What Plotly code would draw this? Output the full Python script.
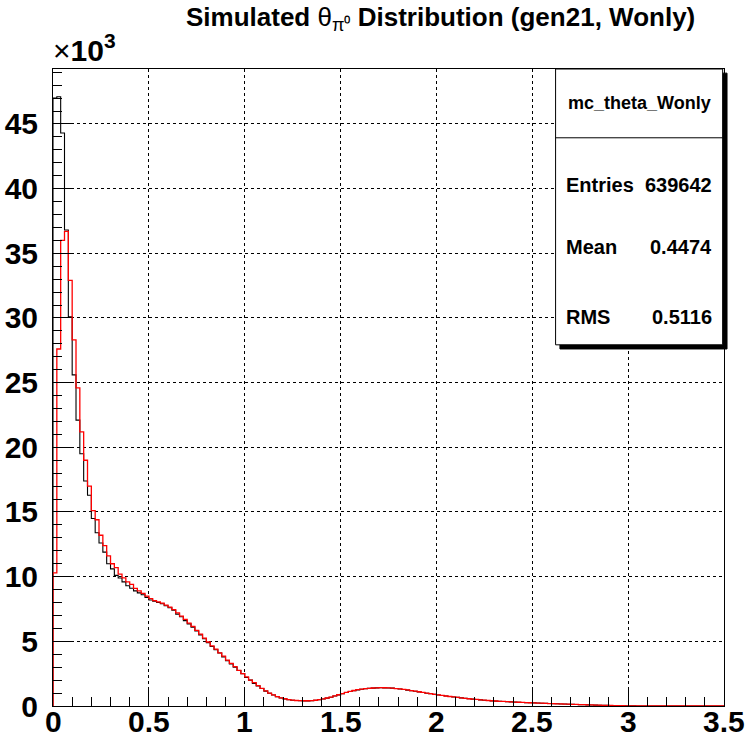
import numpy as np
import plotly.graph_objects as go

# ---- data -------------------------------------------------------------
bin_lo = 0.0
bin_hi = 3.5
n_bins = 175

black_counts = [
    47000, 47100, 44300, 36800, 30100, 25600, 22100, 19500, 17400, 16300,
    14500, 13400, 12600, 11900, 11000, 10600, 10100, 9900, 9600, 9300,
    9100, 8900, 8750, 8600, 8400, 8200, 8100, 8000, 7900, 7750,
    7600, 7400, 7100, 6900, 6600, 6350, 6100, 5800, 5500, 5200,
    4900, 4600, 4350, 4100, 3800, 3500, 3250, 3000, 2750, 2500,
    2200, 2000, 1750, 1550, 1350, 1150, 980, 850, 720, 620,
    550, 490, 450, 420, 410, 400, 400, 410, 440, 480,
    540, 610, 680, 770, 860, 950, 1040, 1120, 1190, 1250,
    1300, 1330, 1360, 1380, 1400, 1410, 1400, 1390, 1380, 1350,
    1310, 1270, 1230, 1190, 1140, 1090, 1040, 990, 950, 900,
    850, 810, 770, 730, 700, 670, 630, 600, 560, 530,
    500, 470, 450, 420, 400, 380, 360, 350, 330, 320,
    300, 290, 270, 260, 250, 240, 230, 210, 200, 190,
    180, 170, 160, 150, 140, 130, 120, 110, 100, 90,
    80, 70, 60, 50, 45, 40, 30, 25, 20, 15,
    10, 8, 5, 3, 2, 1, 0, 0, 0, 0,
    0, 0, 0, 0, 0, 0, 0, 0, 0, 0,
    0, 0, 0, 0, 0,
]

red_counts = [
    10300, 27600, 36000, 36700, 32900, 28300, 24600, 21200, 19000, 17000,
    15100, 14400, 13200, 12400, 11600, 11000, 10700, 10200, 9900, 9600,
    9400, 9100, 8900, 8700, 8500, 8300, 8150, 8050, 7950, 7800,
    7650, 7450, 7200, 6950, 6700, 6400, 6150, 5850, 5550, 5250,
    4950, 4650, 4400, 4100, 3850, 3550, 3300, 3050, 2750, 2500,
    2250, 2000, 1800, 1580, 1370, 1170, 1000, 860, 730, 630,
    560, 500, 455, 425, 410, 405, 405, 415, 445, 490,
    550, 620, 690, 780, 870, 960, 1050, 1130, 1200, 1260,
    1300, 1340, 1370, 1390, 1400, 1420, 1410, 1400, 1380, 1350,
    1320, 1280, 1240, 1190, 1150, 1100, 1050, 1000, 950, 905,
    860, 815, 775, 735, 700, 665, 630, 595, 560, 530,
    505, 475, 450, 425, 405, 385, 365, 350, 335, 320,
    305, 290, 275, 260, 250, 240, 225, 215, 200, 190,
    180, 170, 160, 150, 140, 130, 120, 110, 100, 90,
    80, 70, 60, 52, 45, 38, 32, 25, 20, 15,
    10, 7, 5, 3, 2, 1, 0, 0, 0, 0,
    0, 0, 0, 0, 0, 0, 0, 0, 0, 0,
    0, 0, 0, 0, 0,
]

x_ticks = [0, 0.5, 1, 1.5, 2, 2.5, 3, 3.5]
x_tick_labels = ["0", "0.5", "1", "1.5", "2", "2.5", "3", "3.5"]
y_ticks = [0, 5000, 10000, 15000, 20000, 25000, 30000, 35000, 40000, 45000]
y_tick_labels = ["0", "5", "10", "15", "20", "25", "30", "35", "40", "45"]

title_text = "<b>Simulated</b> θ<sub>π⁰</sub> <b>Distribution (gen21, Wonly)</b>"
stats_name = "mc_theta_Wonly"
stats_rows = [("Entries", "639642"), ("Mean", "0.4474"), ("RMS", "0.5116")]

y_max = 49250

# ---- helpers ------------------------------------------------------------
edges = np.linspace(bin_lo, bin_hi, n_bins + 1)


def step_xy(counts):
    xs = [edges[0]] + list(edges[:-1]) + [edges[-1], edges[-1]]
    ys = [0] + list(counts) + [counts[-1], 0]
    return xs, ys


FONT = "Liberation Sans, Arial, Helvetica, sans-serif"

fig = go.Figure()
bx, by = step_xy(black_counts)
rx, ry = step_xy(red_counts)
fig.add_trace(go.Scatter(x=bx, y=by, mode="lines", line=dict(color="black", width=1.1, shape="hv"),
                         hoverinfo="skip"))
fig.add_trace(go.Scatter(x=rx, y=ry, mode="lines", line=dict(color="#ff0000", width=1.3, shape="hv"),
                         hoverinfo="skip"))

fig.update_layout(
    width=746, height=736,
    margin=dict(l=53, r=22, t=69, b=30, autoexpand=False),
    paper_bgcolor="white", plot_bgcolor="white",
    showlegend=False,
    font=dict(family=FONT, color="black"),
    xaxis=dict(
        range=[bin_lo, bin_hi], tickvals=x_ticks,
        showticklabels=False,
        ticks="inside", ticklen=18, tickwidth=1, tickcolor="black",
        minor=dict(dtick=0.1, ticks="inside", ticklen=9, tickcolor="black", tickwidth=1, showgrid=False),
        showgrid=True, gridcolor="black", griddash="dot", gridwidth=1,
        showline=True, linecolor="black", linewidth=1, mirror=True,
        zeroline=False, fixedrange=True, automargin=False,
    ),
    yaxis=dict(
        range=[0, y_max], tickvals=y_ticks,
        ticktext=[f"<b>{t}</b>" for t in y_tick_labels],
        tickfont=dict(size=30, family=FONT),
        ticks="inside", ticklen=18, tickwidth=1, tickcolor="black",
        ticklabelstandoff=8,
        minor=dict(dtick=1000, ticks="inside", ticklen=9, tickcolor="black", tickwidth=1, showgrid=False),
        showgrid=True, gridcolor="black", griddash="dot", gridwidth=1,
        showline=True, linecolor="black", linewidth=1, mirror=True,
        zeroline=False, fixedrange=True, automargin=False,
    ),
)

# x tick labels placed close under the axis (ROOT style)
for xv, lab in zip(x_ticks, x_tick_labels):
    fig.add_annotation(xref="x", yref="paper", x=xv, y=0, yshift=-15, text=f"<b>{lab}</b>",
                       showarrow=False, font=dict(size=30, family=FONT),
                       xanchor="center", yanchor="middle")

# stats box (paper coords)
bx0, bx1, by0, by1 = 0.749, 0.998, 0.567, 1.0
sh = 0.0065
fig.add_shape(type="rect", xref="paper", yref="paper", x0=bx0 + sh, x1=bx1 + sh, y0=by0 - sh, y1=by1 - sh,
              fillcolor="black", line=dict(color="black", width=1), layer="above")
fig.add_shape(type="rect", xref="paper", yref="paper", x0=bx0, x1=bx1, y0=by0, y1=by1,
              fillcolor="white", line=dict(color="black", width=1), layer="above")
fig.add_shape(type="line", xref="paper", yref="paper", x0=bx0, x1=bx1, y0=0.892, y1=0.892,
              line=dict(color="black", width=1), layer="above")
fig.add_annotation(xref="paper", yref="paper", x=(bx0 + bx1) / 2, y=0.946, text=f"<b>{stats_name}</b>",
                   showarrow=False, font=dict(size=18, family=FONT), xanchor="center", yanchor="middle")
row_y = [0.818, 0.721, 0.611]
for (lab, val), yy in zip(stats_rows, row_y):
    fig.add_annotation(xref="paper", yref="paper", x=bx0 + 0.013, y=yy, text=f"<b>{lab}</b>",
                       showarrow=False, font=dict(size=20, family=FONT), xanchor="left", yanchor="middle")
    fig.add_annotation(xref="paper", yref="paper", x=bx1 - 0.013, y=yy, text=f"<b>{val}</b>",
                       showarrow=False, font=dict(size=20, family=FONT), xanchor="right", yanchor="middle")

# title
fig.add_annotation(xref="paper", yref="paper", x=0.577, y=1.080, text=title_text, showarrow=False,
                   font=dict(size=26, family=FONT), xanchor="center", yanchor="middle")
# exponent label
fig.add_annotation(xref="paper", yref="paper", x=-0.003, y=1.0, text="×<b>10<sup>3</sup></b>",
                   showarrow=False, font=dict(size=30, family=FONT), xanchor="left", yanchor="bottom")

fig.write_html("out.html")
